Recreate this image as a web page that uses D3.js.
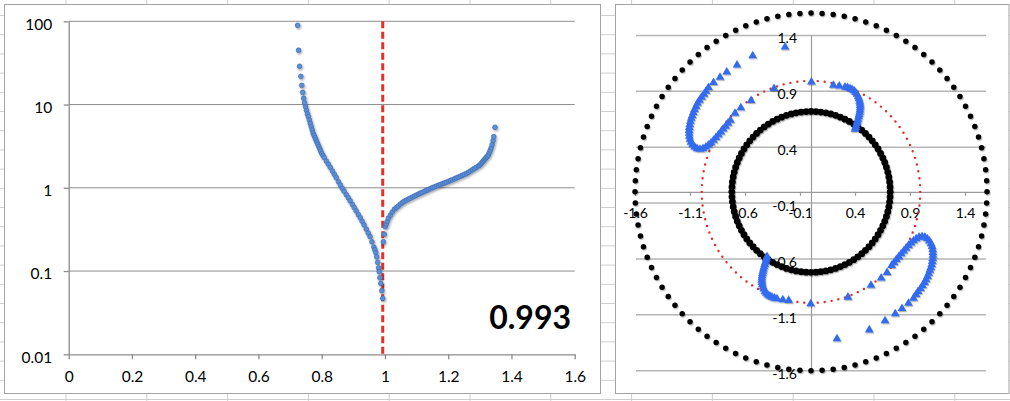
<!DOCTYPE html>
<html><head><meta charset="utf-8">
<script src="https://cdn.jsdelivr.net/npm/d3@7"></script>
<style>
body{margin:0;background:#fff;}
svg{display:block;font-family:Lato,"Open Sans","Liberation Sans",sans-serif;}
</style>
</head><body>
<svg id="c" width="1010" height="401"></svg>
<script>
// ---------- data: left chart (log scatter) ----------
const xTicksL = [0, 0.2, 0.4, 0.6, 0.8, 1, 1.2, 1.4, 1.6];
const xTickLabelsL = ["0", "0.2", "0.4", "0.6", "0.8", "1", "1.2", "1.4", "1.6"];
const yTicksL = [0.01, 0.1, 1, 10, 100];
const yTickLabelsL = ["0.01", "0.1", "1", "10", "100"];
const threshold = 0.993;
const thresholdLabel = "0.993";

const leftBranchX = [0.724,0.727,0.730,0.734,0.737,0.740,0.743,0.746,0.749,0.752,0.755,0.758,
  0.761,0.764,0.767,0.770,0.773,0.776,0.779,0.782,0.785,0.788,0.791,0.794,0.797,0.800,
  0.804,0.808,0.815,0.821,0.827,0.834,0.840,0.846,0.853,0.859,0.865,0.871,0.878,0.884,0.890,
  0.897,0.903,0.909,0.916,0.922,0.928,0.934,0.941,0.947,0.953,0.959,0.965,0.968,0.971,0.974,
  0.977,0.980,0.982,0.984,0.987,0.990,0.993];
const leftBranchY = [89.5,44.9,28.8,21.8,17.0,14.0,11.9,10.5,9.4,8.5,7.7,7.15,
  6.52,5.94,5.42,4.95,4.52,4.25,3.99,3.76,3.53,3.32,3.12,2.94,2.76,2.59,
  2.45,2.31,2.09,1.92,1.76,1.59,1.45,1.32,1.18,1.08,0.986,0.908,0.824,0.759,0.698,
  0.632,0.578,0.528,0.476,0.436,0.396,0.358,0.318,0.286,0.259,0.224,0.194,0.180,0.167,0.148,
  0.127,0.109,0.098,0.083,0.071,0.058,0.047];

const rightBranchX = [0.995,0.998,1.001,1.004,1.007,1.011,1.017,1.023,1.030,1.036,1.042,1.049,1.055,
  1.061,1.068,1.074,1.080,1.087,1.093,1.099,1.106,1.112,1.118,1.125,1.131,1.137,1.144,1.150,
  1.156,1.163,1.169,1.175,1.182,1.188,1.194,1.201,1.207,1.213,1.220,1.226,1.232,1.239,1.245,
  1.251,1.258,1.264,1.270,1.277,1.283,1.289,1.296,1.300,1.304,1.308,1.311,1.314,1.317,1.320,
  1.323,1.327,1.330,1.333,1.336,1.339,1.342,1.344,1.348];
const rightBranchY = [0.225,0.277,0.341,0.366,0.393,0.431,0.469,0.511,0.553,0.578,0.604,0.637,0.665,
  0.690,0.711,0.731,0.750,0.774,0.794,0.817,0.840,0.861,0.881,0.906,0.929,0.951,0.977,1.002,
  1.023,1.049,1.071,1.094,1.120,1.143,1.167,1.196,1.222,1.250,1.282,1.312,1.345,1.381,1.413,
  1.449,1.486,1.535,1.588,1.648,1.706,1.762,1.832,1.875,1.950,2.033,2.099,2.163,2.234,2.301,
  2.377,2.477,2.648,2.825,3.020,3.30,3.68,4.11,5.33];

// ---------- data: right chart (complex plane) ----------
const polarTicks = [-1.6, -1.1, -0.6, -0.1, 0.4, 0.9, 1.4];
const polarTickLabels = ["-1.6", "-1.1", "-0.6", "-0.1", "0.4", "0.9", "1.4"];
const ringRadii = [1.6, 0.72, 0.993];
const ringDots = [100, 100, 100];

const triUpper = [
  [-0.236,1.305],[-0.530,1.226],[-0.673,1.144],[-0.766,1.081],[-0.827,1.034],[-0.886,0.987],[-0.932,0.942],
  [-0.955,0.909],[-0.973,0.882],[-0.995,0.855],[-1.014,0.828],[-1.032,0.801],[-1.045,0.774],[-1.059,0.747],
  [-1.070,0.720],[-1.080,0.693],[-1.089,0.667],[-1.097,0.640],[-1.102,0.613],[-1.106,0.586],[-1.108,0.559],
  [-1.108,0.533],[-1.106,0.506],[-1.101,0.479],[-1.091,0.454],[-1.076,0.430],[-1.057,0.411],[-1.035,0.396],
  [-1.009,0.390],[-0.982,0.396],[-0.956,0.410],[-0.932,0.428],[-0.909,0.449],[-0.886,0.470],[-0.864,0.495],
  [-0.842,0.520],[-0.820,0.545],[-0.798,0.571],[-0.776,0.596],[-0.755,0.623],[-0.733,0.649],
  [-0.691,0.712],[-0.638,0.761],[-0.545,0.826],[-0.336,0.933],[0.003,0.992],
  [0.203,0.962],[0.257,0.956],[0.309,0.947],[0.332,0.942],[0.355,0.933],[0.373,0.924],[0.391,0.913],
  [0.406,0.898],[0.418,0.882],[0.429,0.861],[0.436,0.842],[0.442,0.821],[0.445,0.801],[0.447,0.781],
  [0.447,0.761],[0.445,0.741],[0.442,0.721],[0.437,0.701],[0.433,0.681],[0.427,0.660],[0.421,0.640],
  [0.415,0.621],[0.409,0.600],[0.405,0.584],[0.400,0.569]
];
const triLower = [
  [0.236,-1.305],[0.530,-1.226],[0.673,-1.144],[0.766,-1.081],[0.827,-1.034],[0.886,-0.987],[0.932,-0.942],
  [0.955,-0.909],[0.973,-0.882],[0.995,-0.855],[1.014,-0.828],[1.032,-0.801],[1.045,-0.774],[1.059,-0.747],
  [1.070,-0.720],[1.080,-0.693],[1.089,-0.667],[1.097,-0.640],[1.102,-0.613],[1.106,-0.586],[1.108,-0.559],
  [1.108,-0.533],[1.106,-0.506],[1.101,-0.479],[1.091,-0.454],[1.076,-0.430],[1.057,-0.411],[1.035,-0.396],
  [1.009,-0.390],[0.982,-0.396],[0.956,-0.410],[0.932,-0.428],[0.909,-0.449],[0.886,-0.470],[0.864,-0.495],
  [0.842,-0.520],[0.820,-0.545],[0.798,-0.571],[0.776,-0.596],[0.755,-0.623],[0.733,-0.649],
  [0.691,-0.712],[0.638,-0.761],[0.545,-0.826],[0.336,-0.933],[-0.003,-0.992],
  [-0.203,-0.962],[-0.257,-0.956],[-0.309,-0.947],[-0.332,-0.942],[-0.355,-0.933],[-0.373,-0.924],[-0.391,-0.913],
  [-0.406,-0.898],[-0.418,-0.882],[-0.429,-0.861],[-0.436,-0.842],[-0.442,-0.821],[-0.445,-0.801],[-0.447,-0.781],
  [-0.447,-0.761],[-0.445,-0.741],[-0.442,-0.721],[-0.437,-0.701],[-0.433,-0.681],[-0.427,-0.660],[-0.421,-0.640],
  [-0.415,-0.621],[-0.409,-0.600],[-0.405,-0.584],[-0.400,-0.569]
];

// ---------- drawing ----------
const svg = d3.select("#c");
const defs = svg.append("defs");
const f = defs.append("filter").attr("id","sh").attr("x","-20%").attr("y","-20%").attr("width","140%").attr("height","140%");
f.append("feDropShadow").attr("dx",1).attr("dy",1.5).attr("stdDeviation",0.8).attr("flood-color","#000").attr("flood-opacity",0.35);
const f2 = defs.append("filter").attr("id","sh2").attr("x","-20%").attr("y","-20%").attr("width","140%").attr("height","140%");
f2.append("feDropShadow").attr("dx",0.8).attr("dy",1.2).attr("stdDeviation",0.7).attr("flood-color","#000").attr("flood-opacity",0.3);

// spreadsheet background grid
const bg = svg.append("g").attr("stroke","#cfcfcf").attr("stroke-width",1);
d3.range(66, 1010, 80.8).forEach(x => bg.append("line").attr("x1",x).attr("x2",x).attr("y1",0).attr("y2",401));
d3.range(15.5, 401, 19.2).forEach(y => bg.append("line").attr("x1",0).attr("x2",1010).attr("y1",y).attr("y2",y));

// chart frames
svg.append("rect").attr("x",4.5).attr("y",4.5).attr("width",596).attr("height",389).attr("fill","#fff").attr("stroke","#a3a3a3");
svg.append("rect").attr("x",615.5).attr("y",4.5).attr("width",393.5).attr("height",389).attr("fill","#fff").attr("stroke","#a3a3a3");

// ===== left chart =====
const xL = d3.scaleLinear().domain([0, 1.6]).range([68.7, 574.7]);
const yL = d3.scaleLog().domain([0.01, 100]).range([354.3, 21.3]);

const gl = svg.append("g");
gl.selectAll("line.grid").data(yTicksL.slice(1)).join("line")
  .attr("x1", xL(0)).attr("x2", xL(1.6))
  .attr("y1", d => yL(d)).attr("y2", d => yL(d))
  .attr("stroke","#8c8c8c").attr("stroke-width",1);

const axXL = gl.append("g").attr("transform",`translate(0,${yL(0.01)})`)
  .call(d3.axisBottom(xL).tickValues(xTicksL).tickFormat((d,i)=>xTickLabelsL[i]).tickSize(5).tickSizeOuter(0).tickPadding(11.5));
const axYL = gl.append("g").attr("transform",`translate(${xL(0)},0)`)
  .call(d3.axisLeft(yL).tickValues(yTicksL).tickFormat((d,i)=>yTickLabelsL[i]).tickSize(5).tickSizeOuter(0).tickPadding(11.5));
[axXL, axYL].forEach(a => {
  a.select(".domain").attr("stroke","#8c8c8c").attr("stroke-width",1.3);
  a.selectAll(".tick line").attr("stroke","#8c8c8c").attr("stroke-width",1.3);
  a.selectAll("text").attr("fill","#000").style("font-size","15.5px").style("font-family","Lato, 'Open Sans', sans-serif");
});
axYL.selectAll("text").attr("dy","0.5em");

// threshold line
gl.append("line").attr("x1", xL(threshold)).attr("x2", xL(threshold))
  .attr("y1", yL(100)).attr("y2", yL(0.01))
  .attr("stroke","#e5302a").attr("stroke-width",3).attr("stroke-dasharray","7,3.5");

// scatter points
const leftPts = leftBranchX.map((x,i)=>[x, leftBranchY[i]]).concat(rightBranchX.map((x,i)=>[x, rightBranchY[i]]));
gl.append("g").attr("filter","url(#sh)").selectAll("circle").data(leftPts).join("circle")
  .attr("cx", d => xL(d[0])).attr("cy", d => yL(d[1])).attr("r", 2.4)
  .attr("fill","#5b8fd6").attr("stroke","#3d6db3").attr("stroke-width",0.7);

gl.append("text").attr("x", 571).attr("y", 329).attr("text-anchor","end")
  .style("font-size","32px").style("font-weight","bold").attr("fill","#000").text(thresholdLabel);

// ===== right chart =====
const xR = d3.scaleLinear().domain([-1.6, 1.6]).range([635, 987]);
const yR = d3.scaleLinear().domain([-1.6, 1.4]).range([370.7, 35.4]);
const gr = svg.append("g");

gr.selectAll("line.grid").data(polarTicks).join("line")
  .attr("x1", xR(-1.6)+1).attr("x2", xR(1.6)-1)
  .attr("y1", d => yR(d)).attr("y2", d => yR(d))
  .attr("stroke","#b5b5b5").attr("stroke-width",1.5);

const axXR = gr.append("g").attr("transform",`translate(0,${yR(0)})`)
  .call(d3.axisBottom(xR).tickValues(polarTicks).tickFormat((d,i)=>polarTickLabels[i]).tickSize(4).tickSizeOuter(0).tickPadding(12.5));
const axYR = gr.append("g").attr("transform",`translate(${xR(0)},0)`)
  .call(d3.axisLeft(yR).tickValues(polarTicks).tickFormat((d,i)=>polarTickLabels[i]).tickSize(0).tickSizeOuter(0).tickPadding(14));
axXR.select(".domain").attr("d", `M${xR(-1.6)+1},0.5H${xR(1.6)-1}`);
axYR.select(".domain").attr("d", `M0.5,${yR(1.4)}V${yR(-1.6)}`);
[axXR, axYR].forEach(a => {
  a.select(".domain").attr("stroke","#9a9a9a").attr("stroke-width",1.2);
  a.selectAll(".tick line").attr("stroke","#9a9a9a").attr("stroke-width",1.2);
  a.selectAll("text").attr("fill","#000").style("font-size","14px").style("font-family","Lato, 'Open Sans', sans-serif");
});
axYR.selectAll("text").attr("dy","0.53em");

// rings drawn as dotted ellipses
const ringColor = ["#000", "#000", "#e22a22"];
const ringDot = [5.5, 6.8, 2.4];
const rings = gr.append("g");
ringRadii.forEach((r, i) => {
  const el = rings.append("ellipse")
    .attr("cx", xR(0)).attr("cy", yR(0))
    .attr("rx", xR(r) - xR(0)).attr("ry", yR(0) - yR(r))
    .attr("fill","none").attr("stroke", ringColor[i])
    .attr("stroke-width", ringDot[i]).attr("stroke-linecap","round")
    .attr("filter", i < 2 ? "url(#sh2)" : null);
  const L = el.node().getTotalLength();
  el.attr("stroke-dasharray", `0 ${L / ringDots[i]}`);
});

// triangles
const tri = d3.symbol().type(d3.symbolTriangle).size(33);
gr.append("g").attr("filter","url(#sh2)").selectAll("path").data(triUpper.concat(triLower)).join("path")
  .attr("d", tri)
  .attr("transform", d => `translate(${xR(d[0])},${yR(d[1]) + 1})`)
  .attr("fill","#336bf0");
</script>
</body></html>
